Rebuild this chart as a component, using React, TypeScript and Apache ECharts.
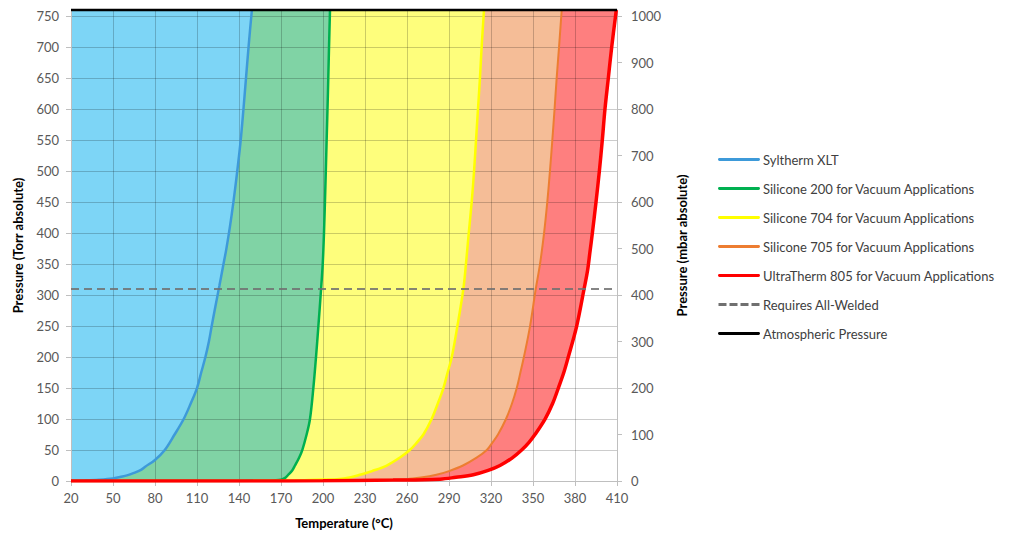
import React, { useEffect, useRef } from "react";
import * as echarts from "echarts";

// ---- Data (temperature °C, pressure Torr absolute) ----
const sylthermXLT: number[][] = [
  [20, 0.5], [30, 1], [40, 2], [50, 4], [55, 6.5], [60, 9], [65, 13], [70, 18], [73, 23],
  [80, 34], [87, 50], [94, 75], [100.5, 100], [105.5, 125], [110, 150], [113, 175], [116, 200],
  [118.5, 225], [120.5, 250], [123, 280], [126, 315], [128.5, 345], [131, 375], [133.5, 410],
  [136, 450], [138.5, 495], [141, 545], [143, 595], [145, 650], [147, 705], [149.2, 760],
];
const silicone200: number[][] = [
  [20, 0], [60, 0], [100, 0.1], [140, 0.2], [160, 0.5], [165, 1], [170, 2], [173, 5], [175, 9.7],
  [178, 17], [180, 25], [183, 38], [185.2, 50], [188.3, 75], [190.7, 100], [193.1, 150],
  [195, 200], [196.7, 250], [198.6, 309], [199.8, 350], [200.7, 400], [201.7, 475],
  [202.6, 550], [203.5, 625], [204.3, 700], [205, 760],
];
const silicone704: number[][] = [
  [20, 0], [100, 0.1], [150, 0.3], [180, 1], [195, 2], [210, 3], [220, 6], [226.4, 10],
  [235, 16], [245.5, 25], [255, 38], [262, 50], [267, 62], [271.7, 75], [277.6, 100],
  [282, 125], [286, 150], [289, 175], [292, 200], [296, 250], [300.2, 309], [302.1, 350],
  [304.1, 400], [306.2, 450], [307.9, 500], [309.3, 550], [310.7, 600], [312.1, 650],
  [313.3, 700], [315, 760],
];
const silicone705: number[][] = [
  [20, 0], [150, 0.1], [200, 0.5], [230, 1.5], [259.8, 3], [270, 5.5], [281, 10], [290, 16],
  [300, 25], [310, 38], [317, 50], [321, 62], [325, 75], [330.7, 100], [335, 125],
  [338.4, 150], [341, 175], [343.5, 200], [347.9, 250], [351.9, 309], [355, 350],
  [357.9, 400], [360.2, 450], [362.1, 500], [363.8, 550], [365.4, 600], [366.9, 650],
  [368.6, 700], [370.5, 760],
];
const ultraTherm805: number[][] = [
  [20, 0], [150, 0.1], [200, 0.4], [250, 1.5], [283.6, 3], [295, 6], [307.4, 10], [318, 17],
  [326.4, 25], [335, 37], [341.9, 50], [347, 62], [351.4, 75], [358.6, 100], [364, 125],
  [368.1, 150], [372, 175], [375.2, 200], [381.2, 250], [386.4, 309], [389, 340],
  [390.7, 370], [392.4, 400], [395, 450], [397.4, 500], [399.5, 550], [401.4, 600],
  [403.8, 650], [406.2, 700], [409.5, 760],
];
const requiresAllWeldedTorr = 310;
const atmosphericTorr = 760;

const seriesNames = [
  "Syltherm XLT",
  "Silicone 200 for Vacuum Applications",
  "Silicone 704 for Vacuum Applications",
  "Silicone 705 for Vacuum Applications",
  "UltraTherm 805 for Vacuum Applications",
  "Requires All-Welded",
  "Atmospheric Pressure",
];

const tempAxis = { min: 20, max: 410, interval: 30 };
const torrAxis = { min: 0, max: 760, interval: 50 };
const mbarPerTorr = 1.33322;
const mbarAxis = { min: 0, interval: 100 };

const FONT = "Lato, 'Open Sans', sans-serif";
const SOLID_ICON = "path://M1,0h40a1.5,1.5 0 0 1 0,3h-40a1.5,1.5 0 0 1 0,-3z";
const DASH_ICON = "path://M0,0h8v3h-8z M11,0h8v3h-8z M22,0h8v3h-8z M33,0h8v3h-8z";
const SMOOTH = 0.35;

export default function App() {
  const ref = useRef<HTMLDivElement>(null);

  useEffect(() => {
    if (!ref.current) return;
    const chart = echarts.init(ref.current, undefined, { renderer: "svg" });

    const curves = [
      { name: seriesNames[0], data: sylthermXLT, line: "#3d9ad9", fill: "#7dd5f6", width: 2.5 },
      { name: seriesNames[1], data: silicone200, line: "#00b050", fill: "#80d3a5", width: 2.5 },
      { name: seriesNames[2], data: silicone704, line: "#ffff00", fill: "#fefe7c", width: 2.5 },
      { name: seriesNames[3], data: silicone705, line: "#ed7d31", fill: "#f5bd97", width: 2 },
      { name: seriesNames[4], data: ultraTherm805, line: "#ff0000", fill: "#fe7f7f", width: 3.5 },
    ];

    const areaSeries = curves
      .slice()
      .reverse()
      .map((c) => ({
        type: "line",
        name: c.name + " (region)",
        data: c.data,
        symbol: "none",
        smooth: SMOOTH,
        lineStyle: { width: 0 },
        areaStyle: { origin: "end", color: c.fill, opacity: 1 },
        z: 2,
        silent: true,
      }));

    const lineSeries = curves.map((c) => ({
      type: "line",
      name: c.name,
      data: c.data,
      symbol: "none",
      smooth: SMOOTH,
      lineStyle: { width: c.width, color: c.line },
      itemStyle: { color: c.line },
      z: 5,
    }));

    const option = {
      animation: false,
      backgroundColor: "#ffffff",
      textStyle: { fontFamily: FONT },
      grid: { left: 71, right: 411, top: 10, bottom: 54, containLabel: false },
      legend: {
        data: seriesNames.map((n, i) => ({ name: n, icon: i === 5 ? DASH_ICON : SOLID_ICON })),
        orient: "vertical",
        left: 718,
        top: 153,
        padding: 0,
        itemWidth: 42,
        itemHeight: 3,
        itemGap: 16,
        textStyle: { fontFamily: FONT, fontSize: 13, color: "#404040", padding: [0, 0, 0, -2] },
      },
      xAxis: {
        type: "value",
        min: tempAxis.min,
        max: tempAxis.max,
        interval: tempAxis.interval,
        z: 3,
        name: "Temperature (°C)",
        nameLocation: "middle",
        nameGap: 35,
        nameTextStyle: { fontFamily: FONT, fontSize: 13, fontWeight: "bold", color: "#000" },
        axisLine: { show: true, lineStyle: { color: "#bfbfbf", width: 1 } },
        axisTick: { show: true, length: 5, lineStyle: { color: "#bfbfbf" } },
        axisLabel: { fontFamily: FONT, fontSize: 13, color: "#595959", margin: 10 },
        splitLine: { show: true, lineStyle: { color: "rgba(0,0,0,0.2)", width: 1 } },
      },
      yAxis: [
        {
          type: "value",
          position: "left",
          min: torrAxis.min,
          max: torrAxis.max,
          interval: torrAxis.interval,
          z: 3,
          name: "Pressure (Torr absolute)",
          nameLocation: "middle",
          nameRotate: 90,
          nameGap: 47,
          nameTextStyle: { fontFamily: FONT, fontSize: 13, fontWeight: "bold", color: "#000" },
          axisLine: { show: true, lineStyle: { color: "#bfbfbf", width: 1 } },
          axisTick: { show: true, length: 5, lineStyle: { color: "#bfbfbf" } },
          axisLabel: { fontFamily: FONT, fontSize: 13, color: "#595959", margin: 12, showMaxLabel: false },
          splitLine: { show: true, lineStyle: { color: "rgba(0,0,0,0.2)", width: 1 } },
        },
        {
          type: "value",
          position: "right",
          min: mbarAxis.min,
          max: atmosphericTorr * mbarPerTorr,
          interval: mbarAxis.interval,
          z: 3,
          name: "Pressure (mbar absolute)",
          nameLocation: "middle",
          nameRotate: 90,
          nameGap: 58,
          nameTextStyle: { fontFamily: FONT, fontSize: 13, fontWeight: "bold", color: "#000" },
          axisLine: { show: true, lineStyle: { color: "#bfbfbf", width: 1 } },
          axisTick: { show: true, length: 5, lineStyle: { color: "#bfbfbf" } },
          axisLabel: {
            fontFamily: FONT,
            fontSize: 13,
            color: "#595959",
            margin: 14,
            showMaxLabel: false,
            formatter: (v: number) => String(Math.round(v)),
          },
          splitLine: { show: false },
        },
      ],
      series: [
        ...areaSeries,
        ...lineSeries,
        {
          type: "line",
          name: seriesNames[5],
          data: [
            [tempAxis.min, requiresAllWeldedTorr],
            [tempAxis.max, requiresAllWeldedTorr],
          ],
          symbol: "none",
          lineStyle: { width: 2, color: "#707070", type: [8, 5], opacity: 0.85 },
          itemStyle: { color: "#707070" },
          z: 6,
        },
        {
          type: "line",
          name: seriesNames[6],
          data: [
            [tempAxis.min, atmosphericTorr],
            [tempAxis.max, atmosphericTorr],
          ],
          symbol: "none",
          clip: false,
          lineStyle: { width: 2.5, color: "#000000" },
          itemStyle: { color: "#000000" },
          z: 7,
        },
      ],
    };

    chart.setOption(option as any);
    return () => chart.dispose();
  }, []);

  return (
    <div
      ref={ref}
      style={{ position: "fixed", left: 0, top: 0, width: 1028, height: 535, background: "#fff" }}
    />
  );
}
